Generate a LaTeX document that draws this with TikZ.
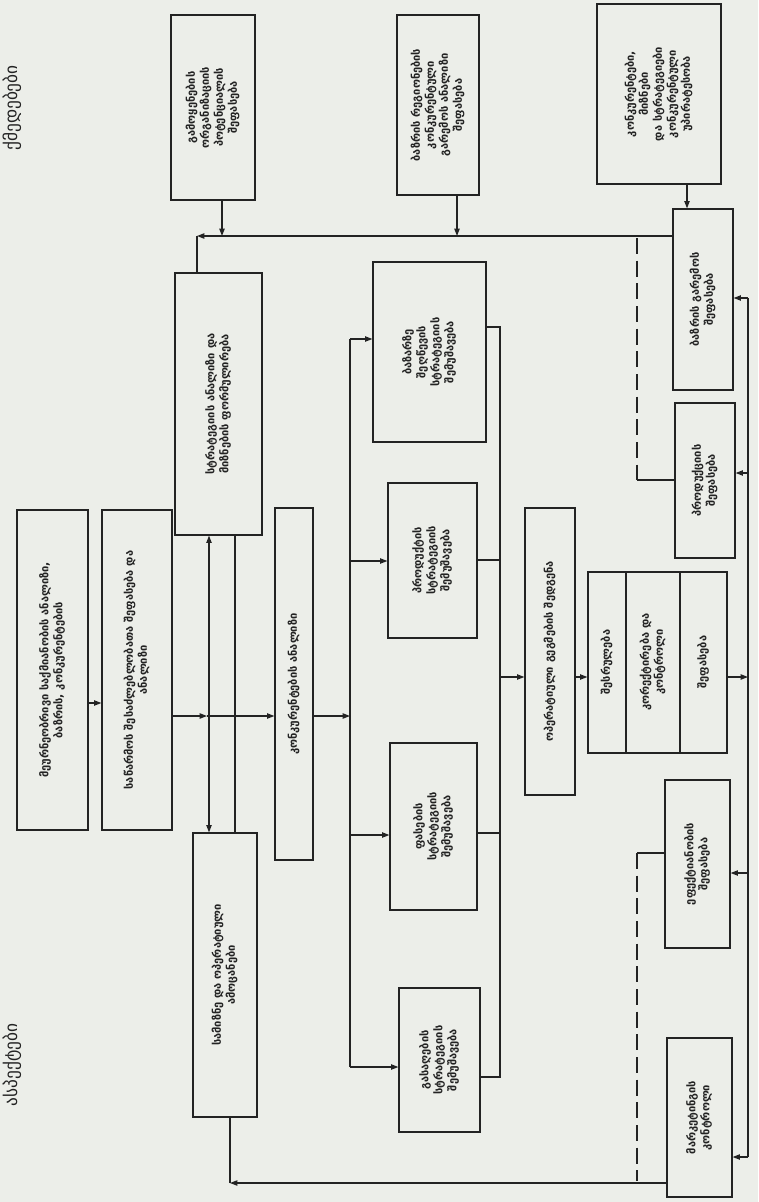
\documentclass[tikz,border=0pt]{standalone}
\usepackage{fontspec}
\setmainfont{DejaVu Sans}
\usetikzlibrary{arrows.meta,calc}
\definecolor{paper}{RGB}{236,238,233}
\definecolor{ink}{RGB}{35,35,35}
\newcommand{\vt}[1]{\rotatebox{90}{\begin{tabular}{@{}c@{}}#1\end{tabular}}}
\begin{document}
\begin{tikzpicture}[x=0.75pt,y=-0.75pt,
  box/.style={draw=ink, line width=0.9pt, inner sep=0pt, fill=paper, text=ink, font=\fontsize{8.3}{10.5}\selectfont\bfseries},
  sz/.style 2 args={minimum width=#1*0.75pt, minimum height=#2*0.75pt},
  txt/.style={inner sep=0pt, text=ink, font=\fontsize{8.3}{10.5}\selectfont\bfseries},
  hdr/.style={inner sep=0pt, font=\fontsize{13}{15}\selectfont, text=ink},
  tip/.style={-{Triangle[length=5.5pt,width=4pt]}},
  ln/.style={draw=ink, line width=0.85pt},
  dsh/.style={draw=ink, line width=0.9pt, dash pattern=on 12pt off 5pt}]
\fill[paper] (0,0) rectangle (758,1202);
\useasboundingbox (0,0) rectangle (758,1202);

% headers
\node[hdr] (h1) at (12,108) {\rotatebox{90}{ქმედებები}};
\node[hdr] (h2) at (12,1065) {\rotatebox{90}{ასპექტები}};

% top row
\node[box, sz={84}{185}] (T1) at (213,107.5) {\vt{გამოყენების\\ორგანიზაციის\\პოტენციალის\\შეფასება}};
\node[box, sz={82}{180}] (T2) at (438,105) {\vt{ბაზრის რეგიონების\\კონკურენტული\\გარემოს ანალიზი\\შეფასება}};
\node[box, sz={124}{180}] (T3) at (659,94) {\vt{კონკურენტები,\\მიზნები\\და სტრატეგიები\\კონკურენტული\\უპირატესობა}};

% right column
\node[box, sz={60}{181}] (R1) at (703,299.5) {\vt{ბაზრის გარემოს\\შეფასება}};
\node[box, sz={60}{155}] (R2) at (705,480.5) {\vt{პროდუქციის\\შეფასება}};
\node[box, sz={65}{168}] (R5) at (697.5,864) {\vt{ეფექტიანობის\\შეფასება}};
\node[box, sz={65}{159}] (R6) at (699.5,1117.5) {\vt{მარკეტინგის\\კონტროლი}};

% stack box
\node[box, sz={139}{181}] (S) at (657.5,662.5) {};
\coordinate (s1) at (626,0);
\coordinate (s2) at (680,0);
\draw[ln] (S.north -| s1) -- (S.south -| s1);
\draw[ln] (S.north -| s2) -- (S.south -| s2);
\node[txt] (S1t) at (607,662) {\vt{შესრულება}};
\node[txt] (S2t) at (653,662) {\vt{კორექტირება და\\კონტროლი}};
\node[txt] (S3t) at (703.5,662) {\vt{შეფასება}};

% middle
\node[box, sz={50}{287}] (M) at (550,651.5) {\vt{ოპერატიული გეგმების შედგენა}};
\node[box, sz={113}{180}] (C1) at (429.5,352) {\vt{ბაზარზე\\შეღწევის\\სტრატეგიის\\შემუშავება}};
\node[box, sz={89}{155}] (C2) at (432.5,560.5) {\vt{პროდუქტის\\სტრატეგიის\\შემუშავება}};
\node[box, sz={87}{167}] (C3) at (433.5,826.5) {\vt{ფასების\\სტრატეგიის\\შემუშავება}};
\node[box, sz={81}{144}] (C4) at (439.5,1060) {\vt{გასაღების\\სტრატეგიის\\შემუშავება}};
\node[box, sz={38}{352}] (E) at (294,684) {\vt{კონკურენტების ანალიზი}};
\node[box, sz={87}{262}] (F) at (218.5,404) {\vt{სტრატეგიის ანალიზი და\\მიზნების ფორმულირება}};
\node[box, sz={64}{284}] (D) at (225,975) {\vt{სამიზნე და ოპერატიული\\ამოცანები}};
\node[box, sz={71}{320}] (A) at (52.5,670) {\vt{მეურნეობრივი საქმიანობის ანალიზი,\\ბაზრის, კონკურენტების}};
\node[box, sz={70}{320}] (B) at (137,670) {\vt{საწარმოს შესაძლებლობათა შეფასება და\\ანალიზი}};

% top connections
\coordinate (cR) at (197,236);
\draw[ln, tip] (R1.west |- cR) -- (cR);
\draw[ln] (cR) -- (F.north -| cR);
\coordinate (j1) at (222,236);
\draw[ln, tip] (T1.south -| j1) -- (j1);
\coordinate (j2) at (457,236);
\draw[ln, tip] (T2.south -| j2) -- (j2);
\coordinate (j3) at (687,0);
\draw[ln, tip] (T3.south -| j3) -- (R1.north -| j3);
\coordinate (d1) at (637,238);
\coordinate (d2) at (637,480);
\draw[dsh] (d1) -- (d2);
\draw[ln] (d2) -- (R2.west |- d2);

% bottom connections
\coordinate (cB) at (230,1183);
\draw[ln, tip] (R6.west |- cB) -- (cB);
\draw[ln] (cB) -- (D.south -| cB);
\coordinate (d3) at (637,853);
\coordinate (d4) at (637,1181);
\draw[ln] (R5.west |- d3) -- (d3);
\draw[dsh] (d3) -- (d4);

% right bus
\coordinate (rb1) at (748,298);
\coordinate (rb2) at (748,1157);
\coordinate (rb3) at (748,473);
\coordinate (rb4) at (748,873);
\coordinate (rb5) at (748,677);
\draw[ln] (rb1) -- (rb2);
\draw[ln, tip] (rb1) -- (R1.east |- rb1);
\draw[ln, tip] (rb3) -- (R2.east |- rb3);
\draw[ln, tip] (rb4) -- (R5.east |- rb4);
\draw[ln, tip] (rb2) -- (R6.east |- rb2);
\draw[ln, tip] (S.east |- rb5) -- (rb5);

% M -> S
\coordinate (ms) at (0,677);
\draw[ln, tip] (M.east |- ms) -- (S.west |- ms);

% bus x=500
\coordinate (mb1) at (500,327);
\coordinate (mb2) at (500,1077);
\coordinate (mb3) at (500,560);
\coordinate (mb4) at (500,833);
\coordinate (mb5) at (500,677);
\draw[ln] (C1.east |- mb1) -- (mb1) -- (mb2) -- (C4.east |- mb2);
\draw[ln] (C2.east |- mb3) -- (mb3);
\draw[ln] (C3.east |- mb4) -- (mb4);
\draw[ln, tip] (mb5) -- (M.west |- mb5);

% bus x=350
\coordinate (lb1) at (350,339);
\coordinate (lb2) at (350,1067);
\coordinate (lb3) at (350,561);
\coordinate (lb4) at (350,835);
\coordinate (lb5) at (350,716);
\draw[ln] (lb1) -- (lb2);
\draw[ln, tip] (lb1) -- (C1.west |- lb1);
\draw[ln, tip] (lb3) -- (C2.west |- lb3);
\draw[ln, tip] (lb4) -- (C3.west |- lb4);
\draw[ln, tip] (lb2) -- (C4.west |- lb2);
\draw[ln, tip] (E.east |- lb5) -- (lb5);

% main flow
\coordinate (f1) at (0,703);
\draw[ln, tip] (A.east |- f1) -- (B.west |- f1);
\coordinate (f2) at (207,716);
\draw[ln, tip] (B.east |- f2) -- (f2);
\draw[ln, tip] (f2) -- (E.west |- f2);

% F <-> D
\coordinate (v1) at (209,0);
\coordinate (v2) at (235,0);
\draw[ln, {Triangle[length=5.5pt,width=4pt]}-{Triangle[length=5.5pt,width=4pt]}] (F.south -| v1) -- (D.north -| v1);
\draw[ln] (F.south -| v2) -- (D.north -| v2);
\end{tikzpicture}
\end{document}
